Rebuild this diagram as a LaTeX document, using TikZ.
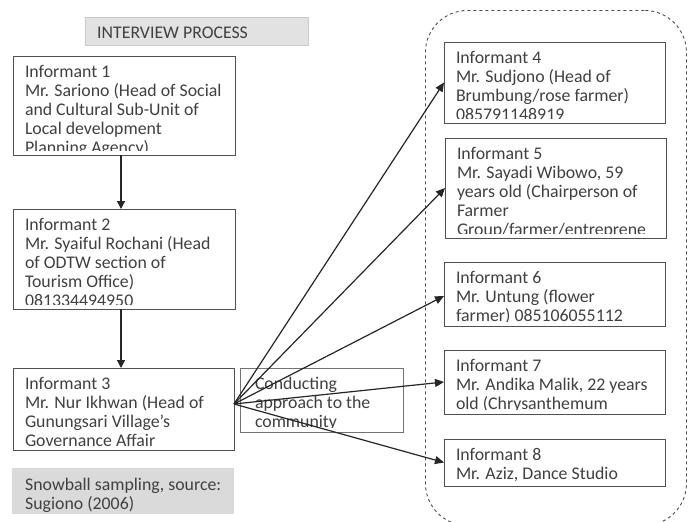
\documentclass[tikz,border=0pt]{standalone}
\usepackage{fontspec}
\setmainfont{Carlito}
\usetikzlibrary{arrows.meta}
\definecolor{boxline}{HTML}{505050}
\definecolor{inktext}{HTML}{404040}
\definecolor{titlegray}{HTML}{E2E2E2}
\definecolor{notegray}{HTML}{DADADA}
\tikzset{
  x=1pt,y=-1pt,
  infotext/.style={anchor=north west,inner sep=0pt,align=left,text=inktext,draw=none,fill=none,
    minimum width=0pt,minimum height=0pt,
    font=\fontsize{17.8}{19}\selectfont},
  infobox/.style 2 args={draw=boxline,line width=1pt,anchor=north west,inner sep=0pt,outer sep=0pt,
    minimum width=#1pt,minimum height=#2pt},
  boxtext/.style={path picture={
    \clip ([yshift=4.5pt]path picture bounding box.south west) rectangle (path picture bounding box.north east);
    \node[infotext] at ([xshift=12pt,yshift=-9.6pt]path picture bounding box.north west) {#1};}},
  flow/.style={draw=black!85,line width=1.2pt,-{Triangle[length=8pt,width=8pt]}},
  fan/.style={draw=black!85,line width=1.2pt,-{Triangle[length=9pt,width=8pt]}},
}
\begin{document}
\begin{tikzpicture}
\path[use as bounding box,clip] (0,0) rectangle (691,522);
\fill[white] (0,0) rectangle (691,522);
\node[draw=black!70,dashed,line width=.9pt,rounded corners=42pt,inner sep=0pt,minimum width=261pt,minimum height=515pt,anchor=north west] (group) at (425,10) {};
\node[fill=titlegray,draw=titlegray!90!black,line width=.5pt,anchor=north west,inner sep=0pt,minimum width=223pt,minimum height=28pt] (title) at (85,17) {};
\node[infotext,anchor=west] (titletext) at (97,33) {INTERVIEW PROCESS};
\node[infobox={222}{99},boxtext={Informant 1\\Mr. Sariono (Head of Social\\and Cultural Sub-Unit of\\Local development\\Planning Agency)}] (b1) at (13,56) {};
\node[infobox={222}{100},boxtext={Informant 2\\Mr. Syaiful Rochani (Head\\of ODTW section of\\Tourism Office)\\081334494950}] (b2) at (13,209) {};
\node[infobox={221}{82},boxtext={Informant 3\\Mr. Nur Ikhwan (Head of\\Gunungsari Village’s\\Governance Affair}] (b3) at (13,368) {};
\node[fill=notegray,anchor=north west,inner sep=0pt,minimum width=222pt,minimum height=46pt] (note) at (12,468) {};
\node[infotext] (notetext) at (25,477.5) {Snowball sampling, source:\\Sugiono (2006)};
\node[draw=boxline!80,line width=1pt,anchor=north west,inner sep=0pt,minimum width=163pt,minimum height=64pt,
  path picture={
    \clip ([yshift=5pt]path picture bounding box.south west) rectangle (path picture bounding box.north east);
    \node[infotext] at ([xshift=14pt,yshift=-8.5pt]path picture bounding box.north west) {Conducting\\approach to the\\community};}] (approach) at (240,368) {};
\node[infobox={221}{81},boxtext={Informant 4\\Mr. Sudjono (Head of\\Brumbung/rose farmer)\\085791148919}] (b4) at (444,42) {};
\node[infobox={221}{100},boxtext={Informant 5\\Mr. Sayadi Wibowo, 59\\years old (Chairperson of\\Farmer\\Group/farmer/entreprene}] (b5) at (445,138) {};
\node[infobox={221}{64},boxtext={Informant 6\\Mr. Untung (flower\\farmer) 085106055112}] (b6) at (444,262) {};
\node[infobox={221}{64},boxtext={Informant 7\\Mr. Andika Malik, 22 years\\old (Chrysanthemum}] (b7) at (444,350) {};
\node[infobox={221}{47},boxtext={Informant 8\\Mr. Aziz, Dance Studio}] (b8) at (444,439) {};
\coordinate (fanorigin) at (234,404);
\draw[flow] ([xshift=-3pt]b1.south) -- ([xshift=-3pt]b2.north);
\draw[flow] ([xshift=-3pt]b2.south) -- ([xshift=-2.5pt]b3.north);
\draw[fan] (fanorigin) -- (b4.west);
\draw[fan] (fanorigin) -- (b5.west);
\draw[fan] (fanorigin) -- ([yshift=-2pt]b6.west);
\draw[fan] (fanorigin) -- (b7.west);
\draw[fan] (fanorigin) -- (b8.west);
\end{tikzpicture}
\end{document}
